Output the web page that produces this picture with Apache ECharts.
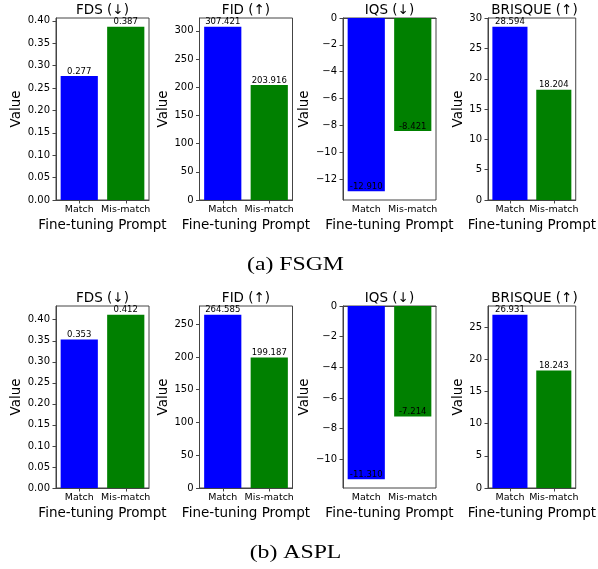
<!DOCTYPE html>
<html><head><meta charset="utf-8">
<script src="https://cdn.jsdelivr.net/npm/echarts@6/dist/echarts.min.js"></script>
<style>html,body{margin:0;padding:0;background:#fff}#c{width:598px;height:569px}</style>
</head><body><div id="c"></div>
<script>
// ---- data ----
const categories = ['Match', 'Mis-match'];
const metricTitles = ['FDS (↓)', 'FID (↑)', 'IQS (↓)', 'BRISQUE (↑)'];
const captions = ['(a) FSGM', '(b) ASPL'];

const fsgmFDS = [0.277, 0.387];
const fsgmFID = [307.421, 203.916];
const fsgmIQS = [-12.910, -8.421];
const fsgmBRISQUE = [28.594, 18.204];

const asplFDS = [0.353, 0.412];
const asplFID = [264.585, 199.187];
const asplIQS = [-11.310, -7.214];
const asplBRISQUE = [26.931, 18.243];

const fsgmTicksFDS = [0, 0.05, 0.10, 0.15, 0.20, 0.25, 0.30, 0.35, 0.40];
const fsgmTicksFID = [0, 50, 100, 150, 200, 250, 300];
const fsgmTicksIQS = [-12, -10, -8, -6, -4, -2, 0];
const fsgmTicksBRISQUE = [0, 5, 10, 15, 20, 25, 30];

const asplTicksFDS = [0, 0.05, 0.10, 0.15, 0.20, 0.25, 0.30, 0.35, 0.40];
const asplTicksFID = [0, 50, 100, 150, 200, 250];
const asplTicksIQS = [-10, -8, -6, -4, -2, 0];
const asplTicksBRISQUE = [0, 5, 10, 15, 20, 25];

const tickDecimals = [2, 0, 0, 0];
const barColors = ['#0000ff', '#008000'];

// ---- layout / style ----
const FONT = 'DejaVu Sans';
const FRAME = '#444';
const colLeft = [56, 199.5, 343, 488];
const colWidth = 93;
const rowTop = [18, 306];
const rowHeight = 182;
const yNameGap = [29, 25, 27, 20];
const captionY = [265, 553];

const rows = [
  { values: [fsgmFDS, fsgmFID, fsgmIQS, fsgmBRISQUE], ticks: [fsgmTicksFDS, fsgmTicksFID, fsgmTicksIQS, fsgmTicksBRISQUE] },
  { values: [asplFDS, asplFID, asplIQS, asplBRISQUE], ticks: [asplTicksFDS, asplTicksFID, asplTicksIQS, asplTicksBRISQUE] }
];

const grids = [], xAxes = [], yAxes = [], series = [], graphics = [];
let idx = 0;
rows.forEach((row, r) => {
  row.values.forEach((vals, c) => {
    const lo = Math.min(0, ...vals), hi = Math.max(0, ...vals);
    const dec = tickDecimals[c];
    grids.push({
      left: colLeft[c], top: rowTop[r], width: colWidth, height: rowHeight,
      show: true, borderColor: FRAME, borderWidth: 1, backgroundColor: 'transparent'
    });
    xAxes.push({
      type: 'category', gridIndex: idx, data: categories,
      name: 'Fine-tuning Prompt', nameLocation: 'middle', nameGap: 18,
      nameTextStyle: { fontFamily: FONT, fontSize: 13.5, color: '#000' },
      axisLine: { show: true, lineStyle: { color: FRAME, width: 1 } },
      axisTick: { show: true, alignWithLabel: true, length: 3.5, lineStyle: { color: FRAME } },
      axisLabel: { fontFamily: FONT, fontSize: 9.5, color: '#000', margin: 5, interval: 0 },
      splitLine: { show: false }
    });
    yAxes.push({
      type: 'value', gridIndex: idx,
      min: lo * 1.05, max: hi * 1.05,
      name: 'Value', nameLocation: 'middle', nameGap: yNameGap[c], nameRotate: 90,
      nameTextStyle: { fontFamily: FONT, fontSize: 13.5, color: '#000' },
      axisLine: { show: true, onZero: false, lineStyle: { color: FRAME, width: 1 } },
      axisTick: { show: true, length: 3.5, lineStyle: { color: FRAME }, customValues: row.ticks[c] },
      axisLabel: {
        fontFamily: FONT, fontSize: 10, color: '#000', margin: 6,
        customValues: row.ticks[c],
        formatter: v => Number(v).toFixed(dec).replace('-', '\u2212')
      },
      splitLine: { show: false }
    });
    series.push({
      type: 'bar', xAxisIndex: idx, yAxisIndex: idx,
      barWidth: '80%',
      data: vals.map((v, i) => ({
        value: v,
        itemStyle: { color: barColors[i] },
        label: { position: v < 0 ? 'insideBottom' : 'top' }
      })),
      label: {
        show: true, distance: 0, fontFamily: FONT, fontSize: 8.5, color: '#000',
        formatter: p => Number(p.value).toFixed(3)
      },
      animation: false
    });
    graphics.push({
      type: 'text', x: colLeft[c] + colWidth / 2, y: rowTop[r] - 8,
      style: { text: metricTitles[c], fontFamily: FONT, fontSize: 13.5, fill: '#000', textAlign: 'center', textVerticalAlign: 'middle' }
    });
    idx++;
  });
});
captions.forEach((t, i) => {
  graphics.push({
    type: 'text', x: 295.5, y: captionY[i], scaleX: 1.25,
    style: { text: t, fontFamily: 'Liberation Serif', fontSize: 19, fill: '#000', textAlign: 'center', textVerticalAlign: 'middle' }
  });
});

const chart = echarts.init(document.getElementById('c'), null, { renderer: 'canvas' });
chart.setOption({
  animation: false,
  backgroundColor: '#fff',
  grid: grids, xAxis: xAxes, yAxis: yAxes, series: series,
  graphic: graphics
});
</script>
</body></html>
